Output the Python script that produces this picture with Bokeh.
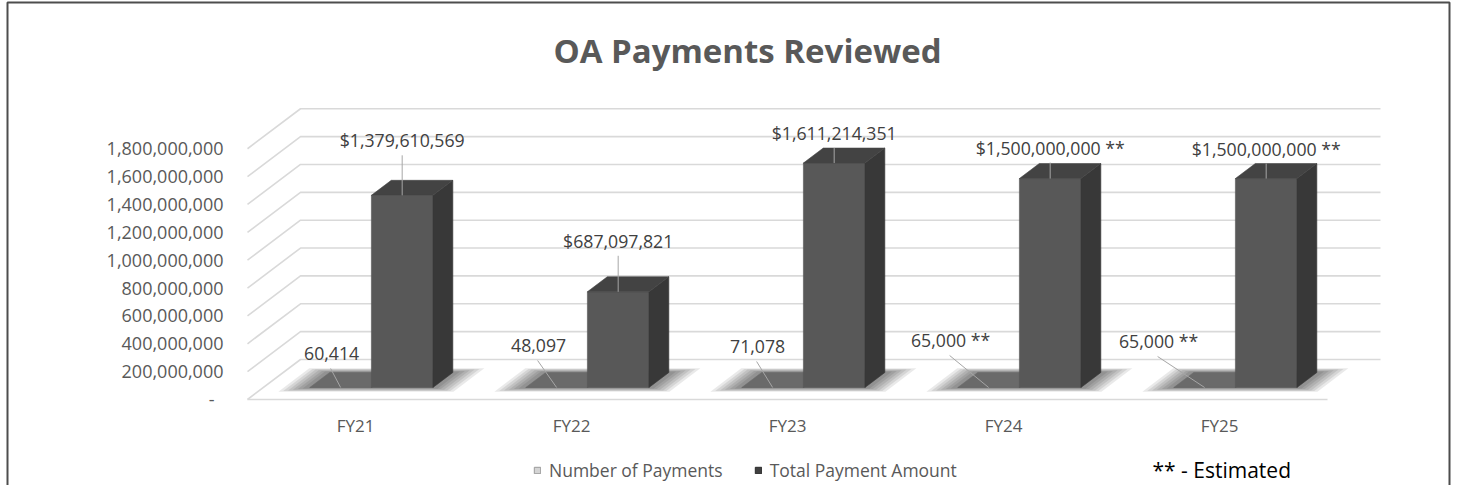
from bokeh.plotting import figure
from bokeh.models import Range1d, Legend, LegendItem, ColumnDataSource
from bokeh.core.properties import value
from bokeh.embed import file_html
from bokeh.resources import INLINE

# ---------------- data ----------------
CATEGORIES = ["FY21", "FY22", "FY23", "FY24", "FY25"]
NUM_PAYMENTS = [60414, 48097, 71078, 65000, 65000]
TOTAL_AMOUNT = [1379610569, 687097821, 1611214351, 1500000000, 1500000000]
ESTIMATED = [False, False, False, True, True]
SERIES = ["Number of Payments", "Total Payment Amount"]
TICK_VALUES = [0, 200000000, 400000000, 600000000, 800000000,
               1000000000, 1200000000, 1400000000, 1600000000, 1800000000]
TITLE = "OA Payments Reviewed"
FOOTNOTE = "** - Estimated"

# ---------------- layout / style ----------------
FONT = "Open Sans"
W, H = 1451, 485
PX_CAT = 216.0                 # px per category
PX_VAL = 27.86 / 200e6         # px per value unit
ORIGIN_X = 247.0               # px where category axis starts
ORIGIN_Y = 399.0               # px (from top) of value 0 on front plane

def dxp(px):
    return px / PX_CAT

def dyp(px):
    return px / PX_VAL

def page(px, py):
    return (px - ORIGIN_X) / PX_CAT, (ORIGIN_Y - py) / PX_VAL

DEPTH_X, DEPTH_Y = dxp(53), dyp(40)
Z0, Z1 = 0.3, 0.675
BAR_W = 0.285
NUM_LBL_DX = [-9, -18, -15, -38, -46]
NUM_LBL_DY = [34, 42, 41, 47, 46]
TOT_LBL_DY = [55, 51, 30, 31, 30]

GRID = "#d9d9d9"
TXT = "#595959"
LBL = "#404040"

p = figure(width=W, height=H, title=None, toolbar_location=None,
           output_backend="svg", min_border=0,
           x_range=Range1d(-ORIGIN_X / PX_CAT, (W - ORIGIN_X) / PX_CAT),
           y_range=Range1d(-(H - ORIGIN_Y) / PX_VAL, ORIGIN_Y / PX_VAL),
           x_axis_type=None, y_axis_type=None)
p.outline_line_color = None
p.background_fill_color = "white"
p.border_fill_color = "white"

# chart box border (left, top, right)
bx0, by0 = page(7, 520)
bx1, by1 = page(7, 2)
bx2, by2 = page(W - 2, 2)
bx3, by3 = page(W - 2, 520)
p.line([bx0, bx1, bx2, bx3], [by0, by1, by2, by3], line_color="#4d4d4d",
       line_width=2)

n = len(CATEGORIES)

# gridlines (back wall + left slant)
gxs, gys = [], []
for v in TICK_VALUES:
    gxs.append([0, DEPTH_X, n + DEPTH_X])
    gys.append([v, v + DEPTH_Y, v + DEPTH_Y])
gxs.append([0, n])
gys.append([0, 0])
p.multi_line(gxs, gys, line_color=GRID, line_width=1.6)

# y tick labels
tick_text = ["-" if v == 0 else f"{v:,}" for v in TICK_VALUES]
tick_x = [dxp(-33) if v == 0 else dxp(-24) for v in TICK_VALUES]
p.text(x=tick_x, y=TICK_VALUES, text=tick_text, text_align="right",
       text_baseline="middle", text_font=value(FONT), text_font_size="18px",
       text_color=TXT)

# category labels
p.text(x=[i + 0.5 for i in range(n)], y=[-dyp(26)] * n, text=CATEGORIES,
       text_align="center", text_baseline="middle", text_font=value(FONT),
       text_font_size="17px", text_color=TXT)

sx0, sy0 = Z0 * DEPTH_X, Z0 * DEPTH_Y
sx1, sy1 = Z1 * DEPTH_X, Z1 * DEPTH_Y

# soft shadows
shx, shy = [], []
for i in range(n):
    xl = i + 0.5 - BAR_W
    xr = i + 0.5 + BAR_W
    for e in [26, 22, 18, 14, 10, 6]:
        ex, ez = dxp(e), e * 0.004
        za, zb = Z0 - ez, Z1 + ez
        shx.append([xl - ex + za * DEPTH_X, xr + ex + za * DEPTH_X,
                    xr + ex + zb * DEPTH_X, xl - ex + zb * DEPTH_X])
        shy.append([za * DEPTH_Y, za * DEPTH_Y, zb * DEPTH_Y, zb * DEPTH_Y])
p.patches(shx, shy, fill_color="black", fill_alpha=0.085, line_color=None)

# 3D bars
faces_x, faces_y, faces_c = [], [], []
def prism(xl, v, cols):
    xr = xl + BAR_W
    faces_x.append([xl + sx0, xr + sx0, xr + sx0, xl + sx0])
    faces_y.append([sy0, sy0, v + sy0, v + sy0])
    faces_c.append(cols[0])
    faces_x.append([xr + sx0, xr + sx1, xr + sx1, xr + sx0])
    faces_y.append([sy0, sy1, v + sy1, v + sy0])
    faces_c.append(cols[1])
    faces_x.append([xl + sx0, xr + sx0, xr + sx1, xl + sx1])
    faces_y.append([v + sy0, v + sy0, v + sy1, v + sy1])
    faces_c.append(cols[2])

for i in range(n):
    prism(i + 0.5 - BAR_W, NUM_PAYMENTS[i], ["#6d6d6d", "#4a4a4a", "#6a6a6a"])
    prism(i + 0.5, TOTAL_AMOUNT[i], ["#585858", "#383838", "#434343"])
src = ColumnDataSource(dict(xs=faces_x, ys=faces_y, c=faces_c))
p.patches("xs", "ys", source=src, fill_color="c", line_color="c", line_width=0.6)

# data labels + leader lines
lx, ly, lt = [], [], []
leader_x, leader_y = [], []
for i in range(n):
    suffix = " **" if ESTIMATED[i] else ""
    # number of payments
    bx = i + 0.5 - BAR_W / 2 + sx0
    by = NUM_PAYMENTS[i] + sy0
    cx, cy = bx + dxp(NUM_LBL_DX[i]), by + dyp(NUM_LBL_DY[i])
    lx.append(cx); ly.append(cy); lt.append(f"{NUM_PAYMENTS[i]:,}" + suffix)
    leader_x.append([cx - dxp(1), bx]); leader_y.append([cy - dyp(15), by])
    # total amount
    bx = i + 0.5 + BAR_W / 2 + sx0
    by = TOTAL_AMOUNT[i] + sy0
    cy = by + dyp(TOT_LBL_DY[i])
    lx.append(bx); ly.append(cy); lt.append(f"${TOTAL_AMOUNT[i]:,}" + suffix)
    leader_x.append([bx, bx]); leader_y.append([cy - dyp(15), by])
p.multi_line(leader_x, leader_y, line_color="#a6a6a6", line_width=1)
p.text(x=lx, y=ly, text=lt, text_align="center", text_baseline="middle",
       text_font=value(FONT), text_font_size="17.7px", text_color=LBL)

# title
tx, ty = page(747, 50)
p.text(x=[tx], y=[ty], text=[TITLE], text_align="center", text_baseline="middle",
       text_font=value(FONT), text_font_size="33px", text_font_style="bold",
       text_color=TXT)

# footnote
fx, fy = page(1152, 469)
p.text(x=[fx], y=[fy], text=[FOOTNOTE], text_align="left", text_baseline="middle",
       text_font=value(FONT), text_font_size="21px", text_color="black")

# legend (dummy area glyphs placed off-canvas so the swatches render as squares)
ox, oy = page(-500, -500)
r1 = p.quad(left=[ox], right=[ox + 0.01], bottom=[oy], top=[oy + 1],
            fill_color="#d4d4d4", line_color="#9a9a9a", line_width=1)
r2 = p.quad(left=[ox], right=[ox + 0.01], bottom=[oy], top=[oy + 1],
            fill_color="#404040", line_color="#2a2a2a", line_width=1)
legend = Legend(items=[LegendItem(label=SERIES[0], renderers=[r1]),
                       LegendItem(label=SERIES[1], renderers=[r2])],
                location=(533, 3), orientation="horizontal",
                border_line_color=None, background_fill_alpha=0,
                padding=0, margin=0, spacing=31, glyph_width=8, glyph_height=8,
                label_standoff=8, label_height=20,
                label_text_font=FONT, label_text_font_size="17.5px",
                label_text_color=TXT)
p.add_layout(legend)

open("out.html", "w").write(file_html(p, INLINE))
